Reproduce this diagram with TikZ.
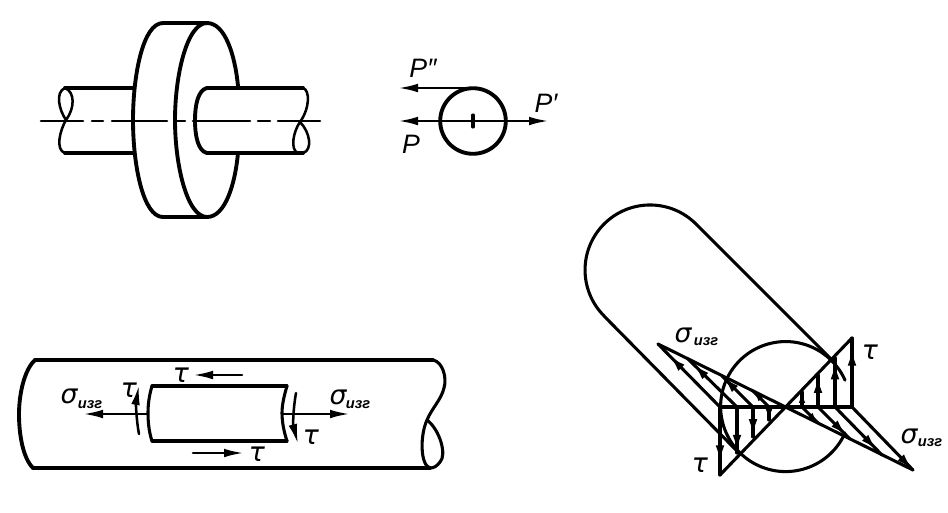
\documentclass[tikz,border=0pt]{standalone}
\usepackage{fontspec}
\setmainfont{Liberation Sans}
\newfontfamily\grk{DejaVu Sans}
\usetikzlibrary{arrows.meta,decorations.markings}
\tikzset{
  heavy/.style={line width=2.9pt,line cap=round,line join=round},
  med/.style={line width=2.3pt,line cap=round,line join=round},
  thinl/.style={line width=1.9pt,line cap=round,line join=round},
  arr/.style={thinl,-{Latex[length=15pt,width=6.5pt]}},
  harr/.style={postaction={decorate},decoration={markings,mark=at position #1 with {\arrow{Latex[length=13pt,width=6.5pt]}}}},
  sarr/.style={postaction={decorate},decoration={markings,mark=at position #1 with {\arrow{Latex[length=8pt,width=5pt]}}}},
  lett/.style={font=\itshape\fontsize{20}{20}\selectfont,inner sep=0pt},
  grl/.style={font=\grk\itshape\fontsize{20}{20}\selectfont,inner sep=0pt},
  subs/.style={font=\bfseries\itshape\fontsize{11}{11}\selectfont,inner sep=0pt}
}
\begin{document}
\begin{tikzpicture}[x=0.75pt,y=-0.75pt]
\useasboundingbox (0,0) rectangle (948,512);
% coupling: disk
\draw[heavy] (163,23) -- (207,23);
\draw[heavy] (163,217) -- (207,217);
\draw[heavy] (163,23) .. controls (143,23) and (133,75) .. (133,120) .. controls (133,165) and (143,217) .. (163,217);
\draw[heavy] (207,23) .. controls (187,23) and (175,75) .. (175,120) .. controls (175,165) and (187,217) .. (207,217);
\draw[heavy] (207,23) .. controls (225,23) and (235,55) .. (238,86);
\draw[heavy] (238,153) .. controls (235,185) and (225,217) .. (207,217);
% left shaft
\draw[heavy] (65,88) -- (133,88);
\draw[heavy] (65,153) -- (133,153);
\draw[thinl] (65,88) .. controls (55,92) and (59,110) .. (66,120) .. controls (60,130) and (55,150) .. (65,153);
\draw[thinl] (65,88) .. controls (75,92) and (75,108) .. (66,120);
% right shaft
\draw[heavy] (207,88) -- (303,88);
\draw[heavy] (207,153) -- (303,153);
\draw[heavy] (207,88) .. controls (198,90) and (195,105) .. (195,120) .. controls (195,136) and (198,151) .. (207,153);
\draw[thinl] (303,88) .. controls (310,90) and (310,108) .. (300,122) .. controls (293,132) and (290,150) .. (298,153);
\draw[thinl] (300,122) .. controls (310,132) and (313,150) .. (303,153);
% center line
\draw[thinl] (41,121) -- (83,121);
\draw[thinl] (92,121) -- (103,121);
\draw[thinl] (112,121) -- (167,121);
\draw[thinl] (175,121) -- (185,121);
\draw[thinl] (193,121) -- (250,121);
\draw[thinl] (258,121) -- (270,121);
\draw[thinl] (278,121) -- (320,121);
% section with forces
\coordinate (cc) at (473,121);
\draw[heavy] (cc) circle[radius=24.6pt];
\draw[med] (473,115) -- (473,127);
\draw[arr] (473,88) -- (398,88);
\draw[arr] (473,121) -- (398,121);
\draw[arr] (473,121) -- (549,121);
\node[lett] (p2) at (423,68) {P″};
\node[lett] (p0) at (411,144) {P};
\node[lett] (p1) at (546,103) {P′};
% beam
\draw[heavy] (35,360) -- (433,360);
\draw[heavy] (33,468) -- (430,468);
\draw[heavy] (35,360) .. controls (24,370) and (19,395) .. (19,414) .. controls (19,435) and (23,458) .. (33,468);
\draw[med] (433,360) .. controls (443,362) and (447,378) .. (444,388) .. controls (441,400) and (432,408) .. (427,420) .. controls (420,435) and (420,465) .. (430,468);
\draw[med] (427,420) .. controls (440,430) and (447,455) .. (440,462) .. controls (437,466) and (434,468) .. (430,468);
\draw[med] (152,386) -- (287,386);
\draw[med] (152,441) -- (287,441);
\draw[med] (152,386) .. controls (149,396) and (148,405) .. (148,413) .. controls (148,422) and (149,432) .. (152,441);
\draw[med] (287,386) .. controls (284,396) and (282,405) .. (282,413) .. controls (282,422) and (284,432) .. (287,441);
\draw[arr] (148,414) -- (83,414);
\draw[arr] (282,414) -- (350,414);
\draw[arr] (139,434) .. controls (136,418) and (136,402) .. (139,385);
\draw[arr] (296,393) .. controls (293,410) and (293,425) .. (298,444);
\draw[arr] (242,375) -- (193,375);
\draw[arr] (193,453) -- (244,453);
\node[grl] (t1) at (129,390) {τ};
\node[grl] (t2) at (311,437) {τ};
\node[grl] (t3) at (181,375) {τ};
\node[grl] (t4) at (257,454) {τ};
\node[grl] (s1) at (69,396) {σ};
\node[subs] (i1) at (90,405) {изг};
\node[grl] (s2) at (338,397) {σ};
\node[subs] (i2) at (358,405) {изг};
% cylinder
\draw[med] (696,224) arc[start angle=45,end angle=225,radius=48.75pt];
\draw[med] (696,224) -- (833,361);
\draw[med] (604,316) -- (739,453);
\draw[med] (845,433) arc[start angle=-24,end angle=-336,radius=48.75pt];
% stress diagram
\draw[med] (720,407) -- (851,407);
\draw[med] (720,475) -- (852,338);
\draw[med] (658,344) -- (913,470);
\draw[med,harr=0.82] (720,407) -- (720,475);
\draw[med,harr=0.98] (737,407) -- (737,453);
\draw[med,harr=0.98] (753,407) -- (753,437);
\draw[med,sarr=0.98] (769,407) -- (769,420);
\draw[med,harr=0.85] (852,407) -- (852,338);
\draw[med,harr=0.92] (835,407) -- (835,358);
\draw[med,harr=0.98] (818,407) -- (818,375);
\draw[med,sarr=0.98] (802,407) -- (802,392);
\draw[med,harr=0.82] (720,407) -- (658,344);
\draw[med,harr=0.9] (737,407) -- (688,359);
\draw[med,harr=0.98] (753,407) -- (722,376);
\draw[med,sarr=0.98] (769,407) -- (753,391);
\draw[med,sarr=0.98] (802,407) -- (818,423);
\draw[med,harr=0.9] (818,407) -- (850,439);
\draw[med,harr=0.9] (835,407) -- (882,455);
\draw[med,harr=1] (852,407) -- (913,470);
\node[grl] (t5) at (870,352) {τ};
\node[grl] (t6) at (700,465) {τ};
\node[grl] (s3) at (683,335) {σ};
\node[subs] (i3) at (706,342) {изг};
\node[grl] (s4) at (909,436) {σ};
\node[subs] (i4) at (930,443) {изг};
\end{tikzpicture}
\end{document}
